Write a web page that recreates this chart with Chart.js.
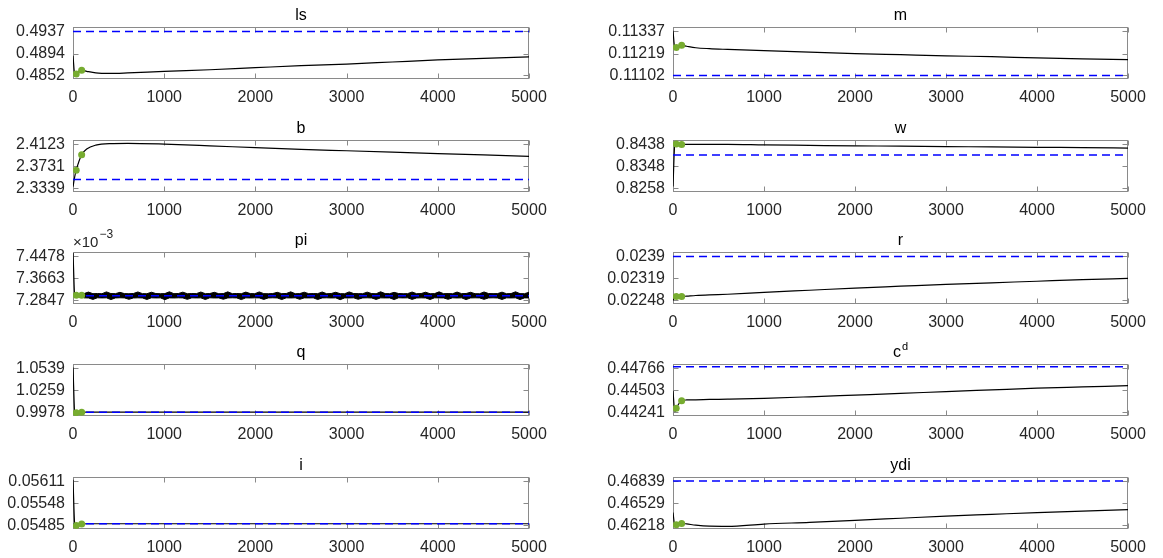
<!DOCTYPE html>
<html lang="en">
  <head>
    <meta charset="UTF-8" />
    <title>Subplots</title>
    <script src="https://cdn.jsdelivr.net/npm/chart.js"></script>
    <style>
      body {
        margin: 0;
        background: #fff;
        width: 1163px;
        height: 558px;
        overflow: hidden;
        position: relative;
      }
      canvas {
        position: absolute;
      }
    </style>
  </head>
  <body>
    <script>
      // x positions of the read samples (shared by every smooth curve)
      const sampleX = [0, 20, 35, 95, 150, 250, 400, 600, 1000, 1500, 2000, 2500, 3000, 3500, 4000, 4500, 5000];
      const dotX = [35, 95];
      const xTickLabels = ["0", "1000", "2000", "3000", "4000", "5000"];

      // ls
      const lsTicks = ["0.4852", "0.4894", "0.4937"];
      const lsLine = [0.4890, 0.4853, 0.4855, 0.4862, 0.4860, 0.4857, 0.4856, 0.4857, 0.4860, 0.4863, 0.4867, 0.4871, 0.4874, 0.4878, 0.4882, 0.4885, 0.4888];
      const lsDots = [0.4855, 0.4862];
      const lsSteady = 0.4937;

      // m
      const mTicks = ["0.11102", "0.11219", "0.11337"];
      const mLine = [0.11340, 0.11250, 0.11251, 0.11263, 0.11258, 0.11250, 0.11245, 0.11241, 0.11234, 0.11226, 0.11219, 0.11213, 0.11207, 0.11202, 0.11196, 0.11191, 0.11187];
      const mDots = [0.11251, 0.11263];
      const mSteady = 0.11102;

      // b
      const bTicks = ["2.3339", "2.3731", "2.4123"];
      const bLine = [2.3370, 2.3560, 2.3665, 2.3940, 2.4040, 2.4110, 2.4138, 2.4142, 2.4128, 2.4098, 2.4065, 2.4035, 2.4010, 2.3985, 2.3960, 2.3935, 2.3910];
      const bDots = [2.3665, 2.3940];
      const bSteady = 2.3499;

      // w
      const wTicks = ["0.8258", "0.8348", "0.8438"];
      const wLine = [0.8266, 0.8437, 0.8440, 0.8438, 0.8438, 0.8438, 0.8438, 0.8438, 0.8436, 0.8434, 0.8432, 0.8431, 0.8429, 0.8428, 0.8426, 0.8425, 0.8423];
      const wDots = [0.8440, 0.8438];
      const wSteady = 0.8395;

      // pi (in units of 1e-3)
      const piTicks = ["7.2847", "7.3663", "7.4478"];
      const piLine = [7.460, 7.305, 7.304, 7.304, 7.302, 7.302, 7.302, 7.302, 7.302, 7.302, 7.302, 7.302, 7.302, 7.302, 7.302, 7.302, 7.302];
      const piDots = [7.304, 7.304];
      const piSteady = 7.302;
      // upper / lower edge of the oscillating band, read left to right
      const piUpper = [
        7.3100, 7.3158, 7.3098, 7.3104, 7.3096, 7.3165, 7.3102, 7.3099, 7.3148, 7.3101,
        7.3097, 7.3105, 7.3162, 7.3100, 7.3096, 7.3152, 7.3103, 7.3098, 7.3101, 7.3168,
        7.3099, 7.3104, 7.3155, 7.3097, 7.3102, 7.3100, 7.3160, 7.3098, 7.3103, 7.3150,
        7.3096, 7.3101, 7.3166, 7.3099, 7.3104, 7.3097, 7.3157, 7.3102, 7.3098, 7.3163,
        7.3100, 7.3096, 7.3103, 7.3149, 7.3099, 7.3105, 7.3167, 7.3097, 7.3101, 7.3154,
        7.3098, 7.3102, 7.3100, 7.3161, 7.3096, 7.3104, 7.3151, 7.3099, 7.3097, 7.3164,
        7.3103, 7.3100, 7.3098, 7.3156, 7.3102, 7.3096, 7.3169, 7.3101, 7.3099, 7.3147,
        7.3104, 7.3097, 7.3100, 7.3159, 7.3098, 7.3103, 7.3153, 7.3096, 7.3101, 7.3166,
        7.3099, 7.3102, 7.3097, 7.3158, 7.3100, 7.3104, 7.3150, 7.3098, 7.3096, 7.3162,
        7.3103, 7.3099, 7.3101, 7.3155, 7.3097, 7.3102, 7.3168, 7.3100, 7.3098, 7.3152
      ];
      const piLower = [
        7.2944, 7.2940, 7.2886, 7.2946, 7.2942, 7.2945, 7.2880, 7.2941, 7.2947, 7.2943,
        7.2890, 7.2940, 7.2945, 7.2942, 7.2884, 7.2946, 7.2941, 7.2944, 7.2878, 7.2943,
        7.2940, 7.2946, 7.2942, 7.2888, 7.2945, 7.2941, 7.2944, 7.2882, 7.2947, 7.2940,
        7.2943, 7.2892, 7.2941, 7.2946, 7.2942, 7.2879, 7.2944, 7.2940, 7.2945, 7.2943,
        7.2886, 7.2941, 7.2946, 7.2942, 7.2881, 7.2944, 7.2940, 7.2947, 7.2889, 7.2943,
        7.2941, 7.2945, 7.2883, 7.2942, 7.2946, 7.2940, 7.2944, 7.2877, 7.2943, 7.2941,
        7.2945, 7.2891, 7.2942, 7.2946, 7.2940, 7.2885, 7.2944, 7.2941, 7.2943, 7.2880,
        7.2947, 7.2942, 7.2945, 7.2887, 7.2940, 7.2944, 7.2941, 7.2883, 7.2946, 7.2943,
        7.2942, 7.2890, 7.2945, 7.2940, 7.2944, 7.2879, 7.2941, 7.2946, 7.2943, 7.2888,
        7.2942, 7.2945, 7.2940, 7.2884, 7.2944, 7.2941, 7.2946, 7.2881, 7.2943, 7.2942
      ];
      const piBandStart = 120;

      // r
      const rTicks = ["0.02248", "0.02319", "0.0239"];
      const rLine = [0.02248, 0.02258, 0.02261, 0.02261, 0.02262, 0.02264, 0.02266, 0.02268, 0.02274, 0.02281, 0.02288, 0.02294, 0.02300, 0.02305, 0.02310, 0.02315, 0.02319];
      const rDots = [0.02261, 0.02261];
      const rSteady = 0.0239;

      // q
      const qTicks = ["0.9978", "1.0259", "1.0539"];
      const qLine = [1.0550, 0.9980, 0.9976, 0.9981, 0.9983, 0.9983, 0.9983, 0.9983, 0.9983, 0.9983, 0.9983, 0.9983, 0.9983, 0.9983, 0.9983, 0.9983, 0.9983];
      const qDots = [0.9975, 0.9981];
      const qSteady = 0.9982;

      // c^d
      const cdTicks = ["0.44241", "0.44503", "0.44766"];
      const cdLine = [0.4450, 0.4425, 0.4429, 0.4438, 0.44390, 0.44392, 0.44396, 0.44400, 0.44410, 0.44428, 0.44448, 0.44468, 0.44490, 0.44510, 0.44530, 0.44545, 0.44560];
      const cdDots = [0.4429, 0.4438];
      const cdSteady = 0.44785;

      // i
      const iTicks = ["0.05485", "0.05548", "0.05611"];
      const iLine = [0.05616, 0.05487, 0.05485, 0.05489, 0.05490, 0.05490, 0.05490, 0.05490, 0.05490, 0.05490, 0.05490, 0.05490, 0.05490, 0.05490, 0.05490, 0.05490, 0.05490];
      const iDots = [0.05485, 0.05489];
      const iSteady = 0.0549;

      // ydi
      const ydiTicks = ["0.46218", "0.46529", "0.46839"];
      const ydiLine = [0.4640, 0.4622, 0.46227, 0.46247, 0.46240, 0.46222, 0.46208, 0.46206, 0.46237, 0.46262, 0.46290, 0.46320, 0.46350, 0.46375, 0.46400, 0.46420, 0.46440];
      const ydiDots = [0.46227, 0.46247];
      const ydiSteady = 0.46843;

      const panels = [
        { title: "ls", col: 0, row: 0, ticks: lsTicks, line: lsLine, dots: lsDots, steady: lsSteady },
        { title: "m", col: 1, row: 0, ticks: mTicks, line: mLine, dots: mDots, steady: mSteady },
        { title: "b", col: 0, row: 1, ticks: bTicks, line: bLine, dots: bDots, steady: bSteady },
        { title: "w", col: 1, row: 1, ticks: wTicks, line: wLine, dots: wDots, steady: wSteady },
        { title: "pi", col: 0, row: 2, ticks: piTicks, line: piLine, dots: piDots, steady: piSteady, exp: true, band: [piUpper, piLower] },
        { title: "r", col: 1, row: 2, ticks: rTicks, line: rLine, dots: rDots, steady: rSteady },
        { title: "q", col: 0, row: 3, ticks: qTicks, line: qLine, dots: qDots, steady: qSteady },
        { title: "c", sup: "d", col: 1, row: 3, ticks: cdTicks, line: cdLine, dots: cdDots, steady: cdSteady },
        { title: "i", col: 0, row: 4, ticks: iTicks, line: iLine, dots: iDots, steady: iSteady },
        { title: "ydi", col: 1, row: 4, ticks: ydiTicks, line: ydiLine, dots: ydiDots, steady: ydiSteady },
      ];

      const FONT = '"Liberation Sans", Arial, Helvetica, sans-serif';
      Chart.defaults.font.family = FONT;
      Chart.defaults.font.size = 16;
      Chart.defaults.color = "#262626";

      // box, inward ticks, title and exponent label (MATLAB look)
      const frame = {
        id: "frame",
        beforeDatasetsDraw(chart) {
          const { ctx, chartArea: a, scales } = chart;
          const L = Math.round(a.left) + 0.5,
            R = Math.round(a.right) - 0.5,
            T = Math.round(a.top) + 0.5,
            B = Math.round(a.bottom) - 0.5;
          ctx.save();
          ctx.strokeStyle = "#8a8a8a";
          ctx.lineWidth = 1;
          ctx.strokeRect(L, T, R - L, B - T);
          ctx.beginPath();
          scales.x.ticks.forEach((t) => {
            const p = Math.round(scales.x.getPixelForValue(t.value)) + 0.5;
            ctx.moveTo(p, B); ctx.lineTo(p, B - 5);
            ctx.moveTo(p, T); ctx.lineTo(p, T + 5);
          });
          scales.y.ticks.forEach((t) => {
            const p = Math.round(scales.y.getPixelForValue(t.value)) + 0.5;
            ctx.moveTo(L, p); ctx.lineTo(L + 5, p);
            ctx.moveTo(R, p); ctx.lineTo(R - 5, p);
          });
          ctx.stroke();
          ctx.restore();
        },
        afterDraw(chart, args, o) {
          const { ctx, chartArea: a } = chart;
          ctx.save();
          ctx.fillStyle = "#000";
          ctx.textBaseline = "alphabetic";
          ctx.textAlign = "left";
          ctx.font = "16px " + FONT;
          const cx = (a.left + a.right) / 2;
          const tw = ctx.measureText(o.title).width;
          let sw = 0;
          if (o.sup) {
            ctx.font = "11px " + FONT;
            sw = ctx.measureText(o.sup).width + 1;
          }
          const x0 = cx - (tw + sw) / 2;
          ctx.font = "16px " + FONT;
          ctx.fillText(o.title, x0, a.top - 7);
          if (o.sup) {
            ctx.font = "11px " + FONT;
            ctx.fillText(o.sup, x0 + tw + 1, a.top - 14);
          }
          if (o.exp) {
            ctx.fillStyle = "#262626";
            ctx.font = "15px " + FONT;
            ctx.fillText("\u00d710", a.left, a.top - 5);
            const ew = ctx.measureText("\u00d710").width;
            ctx.font = "12px " + FONT;
            ctx.fillText("\u22123", a.left + ew + 1, a.top - 14);
          }
          ctx.restore();
        },
      };

      const boxTop = [27, 140, 252, 364, 477];
      const toXY = (xs, ys) => ys.map((y, i) => ({ x: xs[i], y: y }));

      panels.forEach((p) => {
        const cv = document.createElement("canvas");
        const yw = p.col ? 93 : 73;
        cv.width = p.col ? 579 : 560;
        cv.height = 109;
        cv.style.left = (p.col ? 580 : 0) + "px";
        cv.style.top = Math.round(boxTop[p.row] - 27) + "px";
        document.body.appendChild(cv);

        const tv = p.ticks.map(Number);
        const span = tv[2] - tv[0];

        const datasets = [
          {
            data: toXY(dotX, p.dots),
            showLine: false,
            pointRadius: 3.5,
            pointBackgroundColor: "#77ac30",
            pointBorderColor: "#77ac30",
            pointBorderWidth: 0,
          },
          {
            data: [{ x: 0, y: p.steady }, { x: 5000, y: p.steady }],
            borderColor: "#0000ff",
            borderWidth: 1.5,
            borderDash: [8, 5],
            pointRadius: 0,
          },
          {
            data: toXY(sampleX, p.line),
            borderColor: "#000",
            borderWidth: 1.2,
            pointRadius: 0,
            cubicInterpolationMode: "monotone",
          },
        ];
        if (p.band) {
          const n = p.band[0].length;
          const bx = p.band[0].map((v, i) => piBandStart + (i * (5000 - piBandStart)) / (n - 1));
          datasets.push(
            {
              data: toXY(bx, p.band[0]),
              borderColor: "#000",
              borderWidth: 1,
              backgroundColor: "#000",
              fill: "+1",
              pointRadius: 0,
            },
            {
              data: toXY(bx, p.band[1]),
              borderColor: "#000",
              borderWidth: 1,
              pointRadius: 0,
              fill: false,
            }
          );
        }

        new Chart(cv, {
          type: "line",
          data: { datasets },
          plugins: [frame],
          options: {
            responsive: false,
            animation: false,
            events: [],
            layout: { padding: { top: 27, right: 31, left: 0, bottom: 0 } },
            plugins: {
              legend: { display: false },
              tooltip: { enabled: false },
              frame: { title: p.title, sup: p.sup, exp: p.exp },
            },
            scales: {
              x: {
                type: "linear",
                min: 0,
                max: 5000,
                grid: { display: false, drawTicks: false },
                border: { display: false },
                ticks: { padding: 9, color: "#262626", maxRotation: 0, callback: (v, i) => xTickLabels[i] },
                afterBuildTicks: (s) => {
                  s.ticks = xTickLabels.map((l) => ({ value: Number(l) }));
                },
                afterFit: (s) => {
                  s.height = 30;
                },
              },
              y: {
                type: "linear",
                min: tv[0] - span * 0.08,
                max: tv[2] + span * 0.1,
                grid: { display: false, drawTicks: false },
                border: { display: false },
                ticks: { padding: 8, color: "#262626", callback: (v, i) => p.ticks[i] },
                afterBuildTicks: (s) => {
                  s.ticks = tv.map((v) => ({ value: v }));
                },
                afterFit: (s) => {
                  s.width = yw;
                },
              },
            },
          },
        });
      });
    </script>
  </body>
</html>
